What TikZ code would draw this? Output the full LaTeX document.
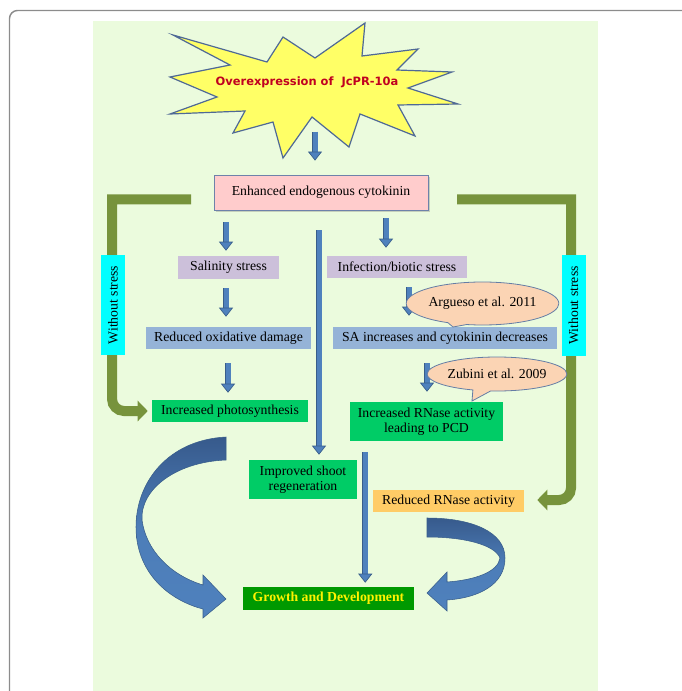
\documentclass[tikz,border=0pt]{standalone}
\usepackage{fontspec}
\setmainfont{Liberation Serif}
\newfontfamily\starfont{DejaVu Sans}
\usetikzlibrary{arrows.meta,shapes.callouts,shadows,calc}

\definecolor{bggreen}{RGB}{235,251,221}
\definecolor{framegray}{RGB}{140,140,140}
\definecolor{staryellow}{RGB}{255,255,102}
\definecolor{starline}{RGB}{79,105,150}
\definecolor{starred}{RGB}{192,0,32}
\definecolor{pinkbox}{RGB}{255,204,204}
\definecolor{enhline}{RGB}{110,130,170}
\definecolor{lavender}{RGB}{204,192,218}
\definecolor{paleblue}{RGB}{149,179,215}
\definecolor{leafgreen}{RGB}{0,204,102}
\definecolor{apricot}{RGB}{255,204,102}
\definecolor{darkgreen}{RGB}{0,153,0}
\definecolor{bracketgreen}{RGB}{119,147,60}
\definecolor{sidecyan}{RGB}{0,255,255}
\definecolor{peach}{RGB}{251,212,180}
\definecolor{citeline}{RGB}{100,125,165}
\definecolor{arrblue}{RGB}{79,129,189}
\definecolor{arrline}{RGB}{56,93,138}
\definecolor{arrdark}{RGB}{55,90,140}

\begin{document}
\begin{tikzpicture}[x=0.75pt,y=0.75pt,yscale=-1,xscale=1,
  txt/.style={font=\fontsize{10.3}{11.5}\selectfont},
  box/.style={txt, inner sep=0pt, align=center},
  stressbox/.style={box, fill=lavender},
  effbox/.style={box, fill=paleblue},
  resbox/.style={box, fill=leafgreen},
  sidebox/.style={box, fill=sidecyan, rotate=90, minimum width=75pt, minimum height=18pt},
  cite/.style={txt, ellipse callout, draw=citeline, fill=peach, line width=0.6pt, inner sep=0pt},
  blk/.style={draw=arrline, line width=0.5pt, double=arrblue, double distance=3.75pt, -{Triangle[length=6.75pt,width=10.5pt,fill=arrblue]}},
  bracket/.style={draw=bracketgreen, line width=7.5pt, -{Triangle[length=7.5pt,width=15pt]}},
  bigarrow/.style={top color=arrdark, bottom color=arrblue, middle color=arrblue!90!arrdark, draw=arrline, line width=0.4pt}
]
\useasboundingbox (0,0) rectangle (681,691);

% frame and page
\draw[framegray, line width=1.1pt, rounded corners=6pt] (9.5,700) -- (9.5,10.5) -- (690,10.5);
\fill[bggreen] (93,21) rectangle (598,691);

% star
\draw[draw=starline, fill=staryellow, line width=0.9] (173,35) -- (267,62) -- (283,37) -- (315,58) -- (365,23) -- (362,56) -- (418,49) -- (397,70) -- (452,72) -- (408,88) -- (458,104) -- (398,105) -- (415,136) -- (360,114) -- (349,147) -- (312,117) -- (283,158) -- (273,122) -- (233,133) -- (245,111) -- (170,114) -- (217,97) -- (170,77) -- (230,65) -- cycle;
\node[font=\starfont\bfseries\fontsize{8.6}{10}\selectfont, text=starred] (over) at (307,82) {Overexpression of~ JcPR-10a};
\coordinate (sb) at (315,132);

% boxes
\node[box, fill=pinkbox, draw=enhline, line width=0.6pt, minimum width=160.5pt, minimum height=26.25pt, drop shadow={opacity=0.35,shadow xshift=1.5pt,shadow yshift=-1.5pt}] (enh) at (321,192.5) {Enhanced endogenous cytokinin};
\node[stressbox, minimum width=75.75pt, minimum height=17.25pt] (sal) at (228.5,267.5) {Salinity stress};
\node[effbox, minimum width=123.75pt, minimum height=16.5pt] (red) at (228.5,338) {Reduced oxidative damage};
\node[resbox, minimum width=117pt, minimum height=16.5pt] (photo) at (230,411) {Increased photosynthesis};
\node[stressbox, minimum width=105pt, minimum height=16.5pt] (inf) at (397,267) {Infection/biotic stress};
\node[effbox, minimum width=168pt, minimum height=16.5pt] (sa) at (445,338) {SA increases and cytokinin decreases};
\node[resbox, minimum width=114.75pt, minimum height=29.25pt] (pcd) at (426.5,421.5) {Increased RNase activity\\leading to PCD};
\node[resbox, minimum width=81pt, minimum height=29.25pt] (shoot) at (303,479.5) {Improved shoot\\regeneration};
\node[box, fill=apricot, minimum width=113.25pt, minimum height=16.5pt] (rnase) at (448.5,501) {Reduced RNase activity};
\node[box, fill=darkgreen, text=yellow, font=\bfseries\fontsize{10.3}{11.5}\selectfont, minimum width=128.25pt, minimum height=17.25pt] (grow) at (328.5,598.5) {Growth and Development};

% blue arrows
\draw[blk] (sb) -- ($(sb |- enh.north)+(0,-14)$);
\draw[blk] ($(sal.north |- enh.south)+(-2.5,12)$) -- ($(sal.north)+(-2.5,-5)$);
\draw[blk] ($(inf.north |- enh.south)+(-11,8)$) -- ($(inf.north)+(-11,-8)$);
\draw[blk] ($(enh.south)+(-2,20)$) -- ($(shoot.north -| enh.south)+(-2,-5)$);
\draw[blk] ($(sal.south)+(-2.5,9)$) -- ($(red.north)+(-2.5,-10)$);
\draw[blk] ($(red.south)+(-0.5,14)$) -- ($(photo.north -| red.south)+(-0.5,-7)$);
\draw[blk] ($(inf.south)+(12,9)$) -- ($(sa.north -| inf.south)+(12,-11)$);
\draw[blk] ($(sa.south)+(-18,14)$) -- ($(pcd.north -| sa.south)+(-18,-10)$);
\draw[blk] ($(pcd.south -| shoot.east)+(8,11)$) -- ($(grow.north -| shoot.east)+(8,-4)$);

% without stress
\coordinate (lb) at (191,199.5);
\coordinate (rb) at (457,199.5);
\draw[bracket] (lb) -- (112,199.5) -- (112,399) arc[start angle=180, end angle=90, radius=12] -- ($(photo.west)+(-4,0)$);
\draw[bracket] (rb) -- (571,199.5) -- (571,488) arc[start angle=0, end angle=90, radius=12] -- ($(rnase.east)+(13,-1)$);
\node[sidebox] (wsl) at (113,305) {Without stress};
\node[sidebox] (wsr) at (573.5,305.5) {Without stress};

% references
\node[cite, minimum width=98.25pt, minimum height=32.25pt, callout absolute pointer={(453,327)}] (arg) at (482.5,303.5) {Argueso et al. 2011};
\node[cite, minimum width=91.5pt, minimum height=25.5pt, callout absolute pointer={(472,401)}] (zub) at (497,374) {Zubini et al. 2009};

% curved arrows
\draw[bigarrow] (226,437) .. controls (168,440) and (136,482) .. (136,527) .. controls (136,572) and (168,600) .. (203,609) -- (203,618) -- (226,599) -- (203,575) -- (203,585) .. controls (170,575) and (146,550) .. (142,520) .. controls (140,490) and (175,462) .. (226,460) -- cycle;
\draw[bigarrow] (427,518) .. controls (472,518) and (505,532) .. (505,558) .. controls (505,585) and (478,598) .. (447,600) -- (447,611) -- (427,593) -- (447,572) -- (447,582) .. controls (475,580) and (498,572) .. (500,558) .. controls (495,545) and (465,537) .. (427,537) -- cycle;
\end{tikzpicture}
\end{document}
